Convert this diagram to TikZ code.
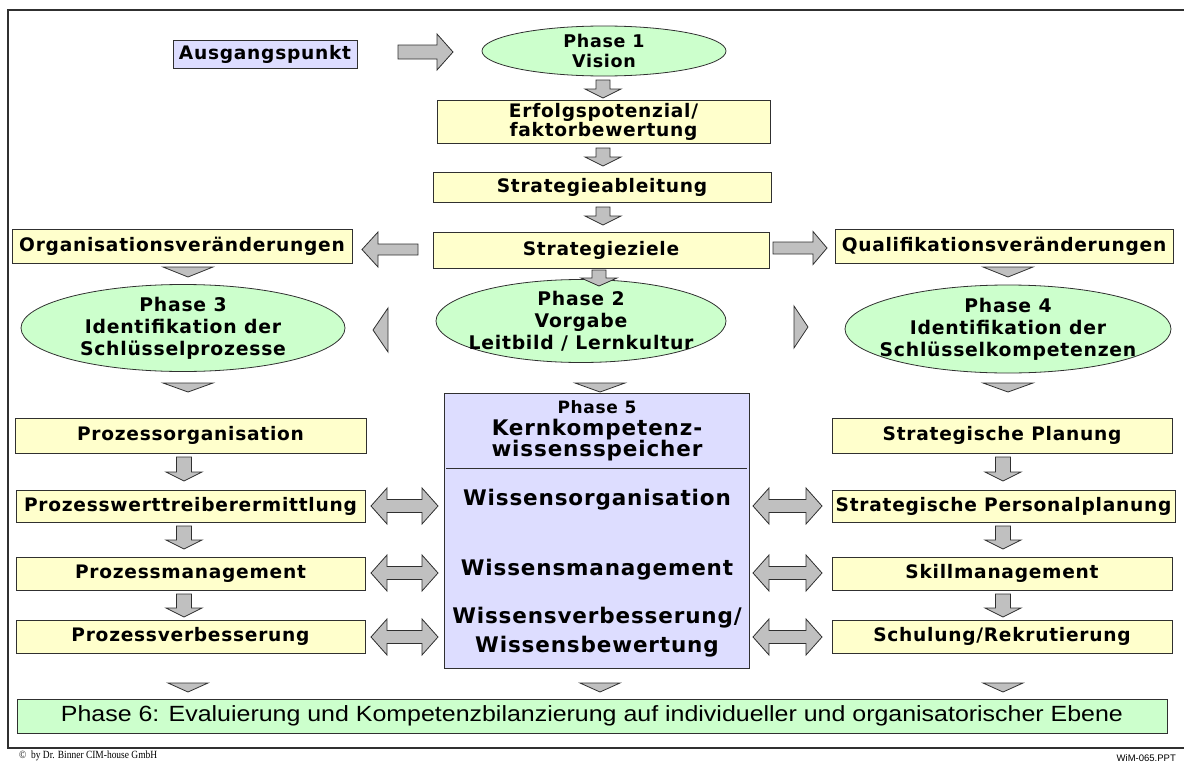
\documentclass[tikz,border=0pt]{standalone}
\usepackage{fontspec}
\usepackage{graphicx}
\setmainfont{DejaVu Sans}
\newfontfamily\labfont{DejaVu Sans}[LetterSpace=4]
\newfontfamily\narrowfont{Liberation Sans}
\newfontfamily\serifnote{Liberation Serif}
\usetikzlibrary{shapes.geometric}
\definecolor{boxyellow}{HTML}{FFFFCC}
\definecolor{boxlav}{HTML}{DDDDFF}
\definecolor{boxgreen}{HTML}{CCFFCC}
\definecolor{arrgray}{HTML}{C0C0C0}
\definecolor{edge}{HTML}{303030}
\newcommand\bx[7]{%
  \pgfmathsetmacro\bxcx{(#2+#4)/2}\pgfmathsetmacro\bxcy{(#3+#5)/2}%
  \pgfmathsetmacro\bxw{#4-#2}\pgfmathsetmacro\bxh{#5-#3}%
  \node[#6, minimum width=\bxw pt, minimum height=\bxh pt] (#1) at (\bxcx,\bxcy) {#7};}
% right arrow: tail x, tip x, yc, body half, head len, head half
\newcommand\rarr[6]{\draw[blockarrow] (#1,#3-#4) -- (#2-#5,#3-#4) -- (#2-#5,#3-#6) -- (#2,#3) -- (#2-#5,#3+#6) -- (#2-#5,#3+#4) -- (#1,#3+#4) -- cycle;}
% left arrow: tail x, tip x (smaller), yc, body half, head len, head half
\newcommand\larr[6]{\draw[blockarrow] (#1,#3-#4) -- (#2+#5,#3-#4) -- (#2+#5,#3-#6) -- (#2,#3) -- (#2+#5,#3+#6) -- (#2+#5,#3+#4) -- (#1,#3+#4) -- cycle;}
% down arrow: xc, tail y, tip y, body half, head len, head half
\newcommand\varr[6]{\draw[blockarrow] (#1-#4,#2) -- (#1-#4,#3-#5) -- (#1-#6,#3-#5) -- (#1,#3) -- (#1+#6,#3-#5) -- (#1+#4,#3-#5) -- (#1+#4,#2) -- cycle;}
% double arrow: left tip, right tip, yc, body half, head len, head half
\newcommand\darr[6]{\draw[blockarrow] (#1,#3) -- (#1+#5,#3-#6) -- (#1+#5,#3-#4) -- (#2-#5,#3-#4) -- (#2-#5,#3-#6) -- (#2,#3) -- (#2-#5,#3+#6) -- (#2-#5,#3+#4) -- (#1+#5,#3+#4) -- (#1+#5,#3+#6) -- cycle;}
% triangles
\newcommand\dtri[4]{\draw[blockarrow] (#1-#4,#2) -- (#1+#4,#2) -- (#1,#3) -- cycle;}
\newcommand\ltri[4]{\draw[blockarrow] (#2,#3-#4) -- (#2,#3+#4) -- (#1,#3) -- cycle;}
\newcommand\rtri[4]{\draw[blockarrow] (#1,#3-#4) -- (#1,#3+#4) -- (#2,#3) -- cycle;}
\begin{document}
\begin{tikzpicture}[x=1pt,y=-1pt,
  blockarrow/.style={draw=edge, fill=arrgray, line width=0.8pt, line join=miter},
  ybox/.style={draw=edge, fill=boxyellow, line width=0.8pt, inner sep=0pt, align=center,
    font=\labfont\bfseries\fontsize{18.6}{19}\selectfont},
  pbox/.style={ybox, fill=boxlav},
  gbox/.style={draw=edge, fill=boxgreen, line width=0.8pt, inner sep=0pt},
  ell/.style={ellipse, draw=edge, fill=boxgreen, line width=0.8pt, inner sep=0pt},
  eltext/.style={align=center, inner sep=0pt, font=\labfont\bfseries\fontsize{18.8}{22}\selectfont},
  p5text/.style={align=center, inner sep=0pt, font=\labfont\bfseries\fontsize{21.5}{29}\selectfont}]
\useasboundingbox (0,0) rectangle (1184,763);
\draw[line width=1.4pt, color=edge] (1184,10) -- (8,10) -- (8,748) -- (1184,748);

% top column
\bx{ausg}{173}{40}{357}{68}{pbox}{Ausgangspunkt}
\rarr{398}{453}{52}{7}{16}{18}
\node[ell, minimum width=244pt, minimum height=50pt] (p1) at (604,51) {};
\node[eltext, font=\labfont\bfseries\fontsize{17.5}{20}\selectfont] (p1t) at (p1.center) {Phase 1\\Vision};
\varr{603}{80}{98}{7}{9}{18}
\bx{erf}{437}{100}{770}{143}{ybox}{Erfolgspotenzial/\\faktorbewertung}
\varr{603}{148}{166}{7}{9}{18}
\bx{sab}{433}{172}{771}{202}{ybox}{Strategieableitung}
\varr{603}{207}{225}{7}{9}{18}
\bx{sz}{433}{232}{769}{268}{ybox}{Strategieziele}

% side branches
\larr{418}{362}{249.5}{5.5}{16}{17.5}
\bx{org}{12}{229}{352}{263}{ybox}{Organisationsveränderungen}
\rarr{773}{827}{248}{6}{14}{16.5}
\bx{qual}{835}{229}{1173}{263}{ybox}{Qualifikationsveränderungen}
\dtri{188}{267}{277}{25}
\dtri{1008}{267}{277}{25}

% phases 3,2,4
\node[ell, minimum width=324pt, minimum height=87pt] (p3) at (183,328) {};
\node[eltext] (p3t) at (p3.center) {Phase 3\\Identifikation der\\Schlüsselprozesse};
\node[ell, minimum width=290pt, minimum height=83pt] (p2) at (581,321) {};
\node[eltext] (p2t) at (p2.center) {Phase 2\\Vorgabe\\Leitbild / Lernkultur};
\node[ell, minimum width=326pt, minimum height=88pt] (p4) at (1008,329) {};
\node[eltext] (p4t) at (p4.center) {Phase 4\\Identifikation der\\Schlüsselkompetenzen};
\varr{599}{270}{286}{7}{8}{18}
\ltri{373}{388}{330}{22}
\rtri{794}{808}{327}{21}
\dtri{188}{383}{392}{25}
\dtri{600}{383}{392}{25}
\dtri{1008}{383}{392}{25}

% phase 5
\bx{p5}{444}{393}{749}{668}{pbox}{}
\node[p5text, font=\labfont\bfseries\fontsize{17}{20}\selectfont] (p5a) at (597,407) {Phase 5};
\node[p5text, font=\labfont\bfseries\fontsize{21.5}{20}\selectfont] (p5b) at (597,440) {Kernkompetenz-\\wissensspeicher};
\draw[edge, line width=0.8pt] (446,468) -- (747,468);
\node[p5text] (w1) at (597,500) {Wissensorganisation};
\node[p5text] (w2) at (597,570) {Wissensmanagement};
\node[p5text] (w3) at (597,632) {Wissensverbesserung/\\Wissensbewertung};

% left column
\bx{l1}{15}{418}{366}{453}{ybox}{Prozessorganisation}
\bx{l2}{16}{490}{365}{522}{ybox}{Prozesswerttreiberermittlung}
\bx{l3}{16}{557}{365}{590}{ybox}{Prozessmanagement}
\bx{l4}{16}{620}{365}{653}{ybox}{Prozessverbesserung}
\varr{184}{457}{481}{7.5}{9}{18}
\varr{184}{526}{549}{7.5}{9}{18}
\varr{184}{594}{617}{7.5}{9}{18}

% right column
\bx{r1}{832}{418}{1172}{453}{ybox}{Strategische Planung}
\bx{r2}{832}{490}{1175}{522}{ybox}{Strategische Personalplanung}
\bx{r3}{832}{557}{1172}{590}{ybox}{Skillmanagement}
\bx{r4}{832}{620}{1172}{653}{ybox}{Schulung/Rekrutierung}
\varr{1003}{457}{481}{7.5}{9}{18}
\varr{1003}{526}{549}{7.5}{9}{18}
\varr{1003}{594}{617}{7.5}{9}{18}

% double arrows
\darr{371}{438}{506}{6.5}{16}{18}
\darr{371}{438}{573}{6.5}{16}{18}
\darr{371}{438}{637}{6.5}{16}{18}
\darr{753}{822}{506}{6.5}{16}{18}
\darr{753}{822}{573}{6.5}{16}{18}
\darr{753}{822}{637}{6.5}{16}{18}

% phase 6
\dtri{188}{683}{692}{20}
\dtri{600}{683}{692}{20}
\dtri{1003}{683}{692}{20}
\bx{p6}{17}{699}{1167}{733}{gbox}{\resizebox{1062pt}{\height}{\narrowfont\fontsize{22}{24}\selectfont Phase 6: Evaluierung und Kompetenzbilanzierung auf individueller und organisatorischer Ebene}}

% footer
\node[anchor=west, inner sep=0pt] (foot1) at (19,756) {\resizebox{138pt}{\height}{\serifnote\fontsize{11}{12}\selectfont \textcopyright\ \ by Dr. Binner CIM-house GmbH}};
\node[anchor=east, inner sep=0pt] (foot2) at (1176,758) {\narrowfont\fontsize{9.5}{11}\selectfont WiM-065.PPT};
\end{tikzpicture}
\end{document}
